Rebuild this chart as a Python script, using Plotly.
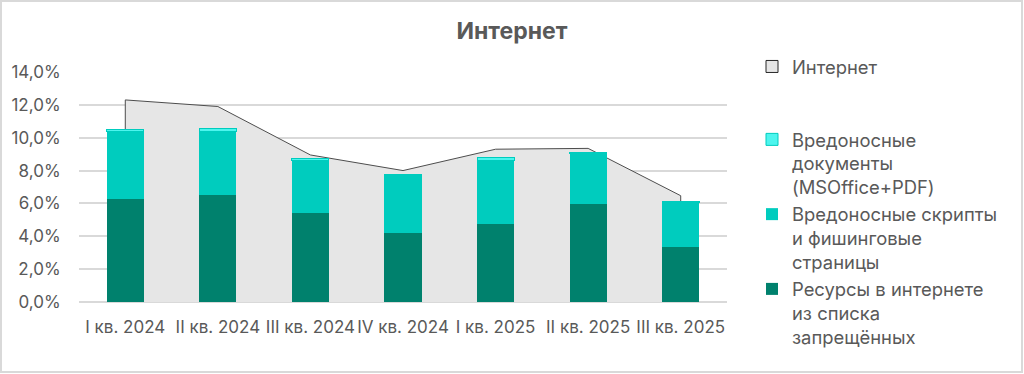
import plotly.graph_objects as go

categories = ["I кв. 2024", "II кв. 2024", "III кв. 2024", "IV кв. 2024",
              "I кв. 2025", "II кв. 2025", "III кв. 2025"]
internet_total = [12.3, 11.9, 8.95, 8.0, 9.3, 9.35, 6.47]
resources = [6.25, 6.5, 5.42, 4.22, 4.77, 5.96, 3.37]
scripts = [4.12, 3.9, 3.22, 3.45, 3.87, 3.09, 2.68]
documents = [0.14, 0.17, 0.08, 0.12, 0.16, 0.08, 0.08]
y_ticks = [0, 2, 4, 6, 8, 10, 12, 14]
y_tick_labels = [f"{v:.1f}".replace(".", ",") + "%" for v in y_ticks]

TXT = "#595959"
FONT = "Inter"

fig = go.Figure()

# area (drawn on base axis, below bars)
fig.add_trace(go.Scatter(
    x=[categories[0]] + categories + [categories[-1]],
    y=[0] + internet_total + [0],
    mode="lines", fill="tozeroy", fillcolor="#E6E6E6",
    line=dict(color="#4D4D4D", width=1),
    name="Интернет", showlegend=False, hoverinfo="skip",
))
# legend-only entry for the area (square swatch like the reference)
fig.add_trace(go.Bar(
    x=categories, y=[None] * len(categories), name="Интернет",
    marker=dict(color="#E6E6E6", line=dict(color="#262626", width=1)),
    legendgroup="a", legendrank=1,
))

fig.add_trace(go.Bar(
    x=categories, y=resources, yaxis="y2", name="Ресурсы в интернете<br>из списка<br>запрещённых",
    marker=dict(color="#00816D", line=dict(width=0)), legendgroup="b", legendrank=4,
))
fig.add_trace(go.Bar(
    x=categories, y=scripts, yaxis="y2", name="Вредоносные скрипты<br>и фишинговые<br>страницы",
    marker=dict(color="#00CCBE", line=dict(width=0)), legendgroup="b", legendrank=3,
))
fig.add_trace(go.Bar(
    x=categories, y=documents, yaxis="y2", name="Вредоносные<br>документы<br>(MSOffice+PDF)",
    marker=dict(color="#4DF5EE", line=dict(color="#00CCBE", width=1)), legendgroup="b", legendrank=2,
))

W, H = 1024, 374
L, R, T, B = 79, 297, 72, 72
pw, ph = W - L - R, H - T - B

def px_x(p):
    return (p - L) / pw

def px_y(p):
    return (H - B - p) / ph

fig.update_layout(
    width=W, height=H,
    margin=dict(l=L, r=R, t=T, b=B, pad=0, autoexpand=False),
    paper_bgcolor="white", plot_bgcolor="white",
    barmode="stack", bargap=0.6,
    font=dict(family=FONT, color=TXT, size=16),
    title=dict(text="<b>Интернет</b>", x=0.5, xref="container", xanchor="center",
               y=1 - 31 / H, yref="container", yanchor="middle",
               font=dict(family=FONT, size=23, color=TXT)),
    xaxis=dict(type="category", categoryorder="array", categoryarray=categories,
               showgrid=False, showline=False, zeroline=False, automargin=False,
               tickangle=0,
               ticks="outside", ticklen=10, tickcolor="rgba(0,0,0,0)",
               tickfont=dict(size=17, color=TXT, family=FONT)),
    yaxis=dict(range=[0, 14], tickvals=y_ticks, ticktext=y_tick_labels, automargin=False,
               showgrid=True, gridcolor="#D9D9D9", gridwidth=2,
               zeroline=True, zerolinecolor="#D9D9D9", zerolinewidth=2,
               showline=False, ticks="outside", ticklen=14, tickcolor="rgba(0,0,0,0)",
               tickfont=dict(size=17, color=TXT, family=FONT)),
    yaxis2=dict(range=[0, 14], overlaying="y", side="left", visible=False,
                showgrid=False, zeroline=False),
    legend=dict(x=px_x(752), xanchor="left", y=px_y(48), yanchor="top",
                font=dict(size=18.4, color=TXT, family=FONT),
                traceorder="grouped", maxheight=400,
                tracegroupgap=46, valign="top", bgcolor="rgba(0,0,0,0)",
                itemclick=False, itemdoubleclick=False),
    showlegend=True,
    shapes=[dict(type="rect", xref="paper", yref="paper",
                 x0=px_x(1), x1=px_x(1022), y0=px_y(372), y1=px_y(1),
                 line=dict(color="#D9D9D9", width=2), fillcolor="rgba(0,0,0,0)",
                 layer="below")],
)

fig.write_html("out.html", config={"displayModeBar": False},
               post_script="document.body.style.margin='0';")
